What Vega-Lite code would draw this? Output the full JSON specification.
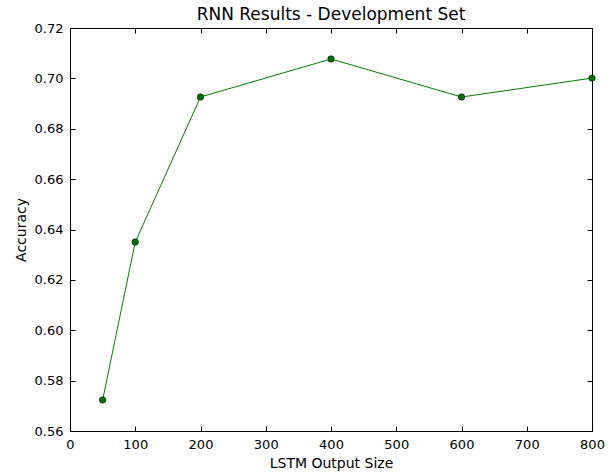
{
  "$schema": "https://vega.github.io/schema/vega-lite/v6.json",
  "width": 522,
  "height": 403,
  "autosize": {"type": "none"},
  "padding": {"left": 70, "top": 28, "right": 19, "bottom": 43},
  "background": "white",
  "title": {"text": "RNN Results - Development Set", "font": "DejaVu Sans", "fontSize": 17, "fontWeight": "normal", "color": "black", "offset": -2},
  "config": {
    "view": {"stroke": "black", "strokeWidth": 1},
    "axis": {"grid": false, "domain": false, "tickSize": -5, "tickColor": "black", "labelColor": "black", "labelFont": "DejaVu Sans", "labelFontSize": 13, "labelFlush": false, "labelOverlap": false, "titleFont": "DejaVu Sans", "titleFontSize": 14, "titleFontWeight": "normal", "titleColor": "black"}
  },
  "data": {"values": [
    {"size": 50, "acc": 0.5723},
    {"size": 100, "acc": 0.635},
    {"size": 200, "acc": 0.6926},
    {"size": 400, "acc": 0.7077},
    {"size": 600, "acc": 0.6926},
    {"size": 800, "acc": 0.7001}
  ]},
  "layer": [
    {
      "mark": {"type": "line", "color": "#008000", "strokeWidth": 1},
      "encoding": {
        "x": {"field": "size", "type": "quantitative", "scale": {"domain": [0, 800], "nice": false}, "axis": {"title": "LSTM Output Size", "values": [0,100,200,300,400,500,600,700,800], "labelPadding": 12, "titlePadding": 5}},
        "y": {"field": "acc", "type": "quantitative", "scale": {"domain": [0.56, 0.72], "nice": false, "zero": false}, "axis": {"title": "Accuracy", "format": ".2f", "values": [0.56,0.58,0.60,0.62,0.64,0.66,0.68,0.70,0.72], "labelPadding": 12, "titlePadding": 6}}
      }
    },
    {
      "mark": {"type": "point", "filled": true, "color": "#007000", "stroke": "black", "strokeWidth": 0.5, "size": 42, "opacity": 1, "clip": false},
      "encoding": {
        "x": {"field": "size", "type": "quantitative", "axis": {"orient": "top", "labels": false, "title": null, "values": [0,100,200,300,400,500,600,700,800]}},
        "y": {"field": "acc", "type": "quantitative", "axis": {"orient": "right", "labels": false, "title": null, "values": [0.56,0.58,0.60,0.62,0.64,0.66,0.68,0.70,0.72]}}
      }
    }
  ],
  "resolve": {"axis": {"x": "independent", "y": "independent"}}
}
